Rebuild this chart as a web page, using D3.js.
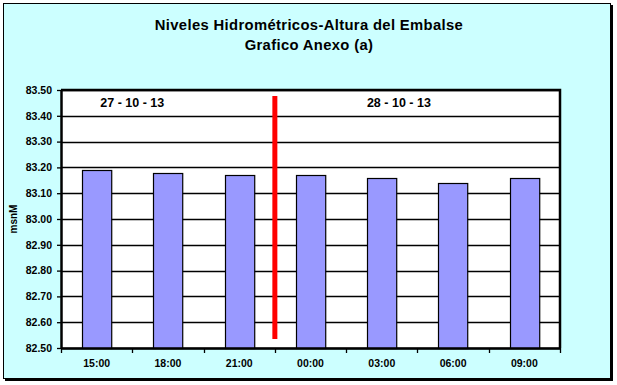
<!DOCTYPE html>
<html>
<head>
<meta charset="utf-8">
<script src="https://cdn.jsdelivr.net/npm/d3@7"></script>
<style>
  html, body { margin: 0; padding: 0; background: #ffffff; }
  svg { display: block; }
  text { font-family: "Liberation Sans", Arial, sans-serif; font-weight: bold; fill: #000; }
</style>
</head>
<body>
<svg id="chart" width="617" height="385"></svg>
<script>
// ---- data ----
const categories = ["15:00", "18:00", "21:00", "00:00", "03:00", "06:00", "09:00"];
const values = [83.19, 83.18, 83.17, 83.17, 83.16, 83.14, 83.16];
const yTicks = [82.50, 82.60, 82.70, 82.80, 82.90, 83.00, 83.10, 83.20, 83.30, 83.40, 83.50];
const titleLines = ["Niveles Hidrométricos-Altura del Embalse", "Grafico Anexo (a)"];
const yLabel = "msnM";
const dayLabels = ["27 - 10 - 13", "28 - 10 - 13"];
const dayLabelPositions = [1.0, 4.74];     // in category units (band index)
const dayLabelValue = 83.445;              // y position in data units
const dividerIndex = 3;                    // boundary before "00:00"
const dividerRange = [82.535, 83.477];     // vertical extent in data units

// ---- layout ----
const svg = d3.select("#chart");
const plot = { left: 61, top: 90, right: 560, bottom: 348 };

// chart area background with shadow border
svg.append("rect").attr("x", 5).attr("y", 5).attr("width", 608).attr("height", 376).attr("fill", "#000");
svg.append("rect").attr("x", 3.5).attr("y", 3.5).attr("width", 607).attr("height", 375)
  .attr("fill", "#CCFFFF").attr("stroke", "#000").attr("stroke-width", 1);

// title
svg.append("g").selectAll("text").data(titleLines).join("text")
  .attr("x", 309).attr("y", (d, i) => 30 + i * 19.5)
  .attr("text-anchor", "middle").style("font-size", "14.8px").style("letter-spacing", "0.35px")
  .text(d => d);

// scales
const x = d3.scaleBand().domain(categories).range([plot.left, plot.right])
  .paddingInner(0.59).paddingOuter(0.295);
const xIdx = d3.scaleLinear().domain([0, categories.length]).range([plot.left, plot.right]);
const y = d3.scaleLinear().domain([82.5, 83.5]).range([plot.bottom, plot.top]);

// plot background
svg.append("rect").attr("x", plot.left).attr("y", plot.top)
  .attr("width", plot.right - plot.left).attr("height", plot.bottom - plot.top).attr("fill", "#fff");

// gridlines
svg.append("g").selectAll("line").data(yTicks).join("line")
  .attr("x1", plot.left).attr("x2", plot.right)
  .attr("y1", d => Math.round(y(d)) + 0.5).attr("y2", d => Math.round(y(d)) + 0.5)
  .attr("stroke", "#000").attr("stroke-width", 1.3);

// bars
svg.append("g").selectAll("rect").data(values).join("rect")
  .attr("x", (d, i) => Math.round(x(categories[i])) + 0.5)
  .attr("y", d => Math.round(y(d)) + 0.5)
  .attr("width", x.bandwidth())
  .attr("height", d => plot.bottom - Math.round(y(d)))
  .attr("fill", "#9999FF").attr("stroke", "#000").attr("stroke-width", 1.2);

// divider line
svg.append("line")
  .attr("x1", xIdx(dividerIndex)).attr("x2", xIdx(dividerIndex))
  .attr("y1", y(dividerRange[0])).attr("y2", y(dividerRange[1]))
  .attr("stroke", "#FF0000").attr("stroke-width", 5);

// day labels
svg.append("g").selectAll("text").data(dayLabels).join("text")
  .attr("x", (d, i) => xIdx(dayLabelPositions[i]))
  .attr("y", y(dayLabelValue))
  .attr("text-anchor", "middle").style("font-size", "12.5px")
  .attr("dominant-baseline", "middle")
  .text(d => d);

// plot border (top, right)
svg.append("path")
  .attr("d", `M${plot.left},${plot.top}H${plot.right}V${plot.bottom}`)
  .attr("fill", "none").attr("stroke", "#000").attr("stroke-width", 2.5);

// y axis
const yAxis = svg.append("g").attr("transform", `translate(${plot.left},0)`)
  .call(d3.axisLeft(y).tickValues(yTicks).tickFormat(d3.format(".2f")).tickSize(4).tickPadding(5).tickSizeOuter(0));
yAxis.select(".domain").attr("stroke-width", 2.5);
yAxis.selectAll("line").attr("stroke-width", 1.3);
yAxis.selectAll("text").style("font-size", "10.5px").style("font-family", "Liberation Sans, Arial, sans-serif").style("font-weight", "bold");

// x axis labels
const xAxis = svg.append("g").attr("transform", `translate(0,${plot.bottom})`)
  .call(d3.axisBottom(x).tickSize(0).tickPadding(12).tickSizeOuter(0));
xAxis.select(".domain").attr("stroke-width", 2.5);
xAxis.selectAll("text").style("font-size", "10.5px").style("font-family", "Liberation Sans, Arial, sans-serif").style("font-weight", "bold");

// x boundary ticks
svg.append("g").selectAll("line").data(d3.range(categories.length + 1)).join("line")
  .attr("x1", d => Math.round(xIdx(d)) + 0.5).attr("x2", d => Math.round(xIdx(d)) + 0.5)
  .attr("y1", plot.bottom).attr("y2", plot.bottom + 5)
  .attr("stroke", "#000").attr("stroke-width", 1.3);

// y axis label
svg.append("text")
  .attr("transform", `translate(17,${(plot.top + plot.bottom) / 2}) rotate(-90)`)
  .attr("text-anchor", "middle").style("font-size", "10px")
  .text(yLabel);
</script>
</body>
</html>
